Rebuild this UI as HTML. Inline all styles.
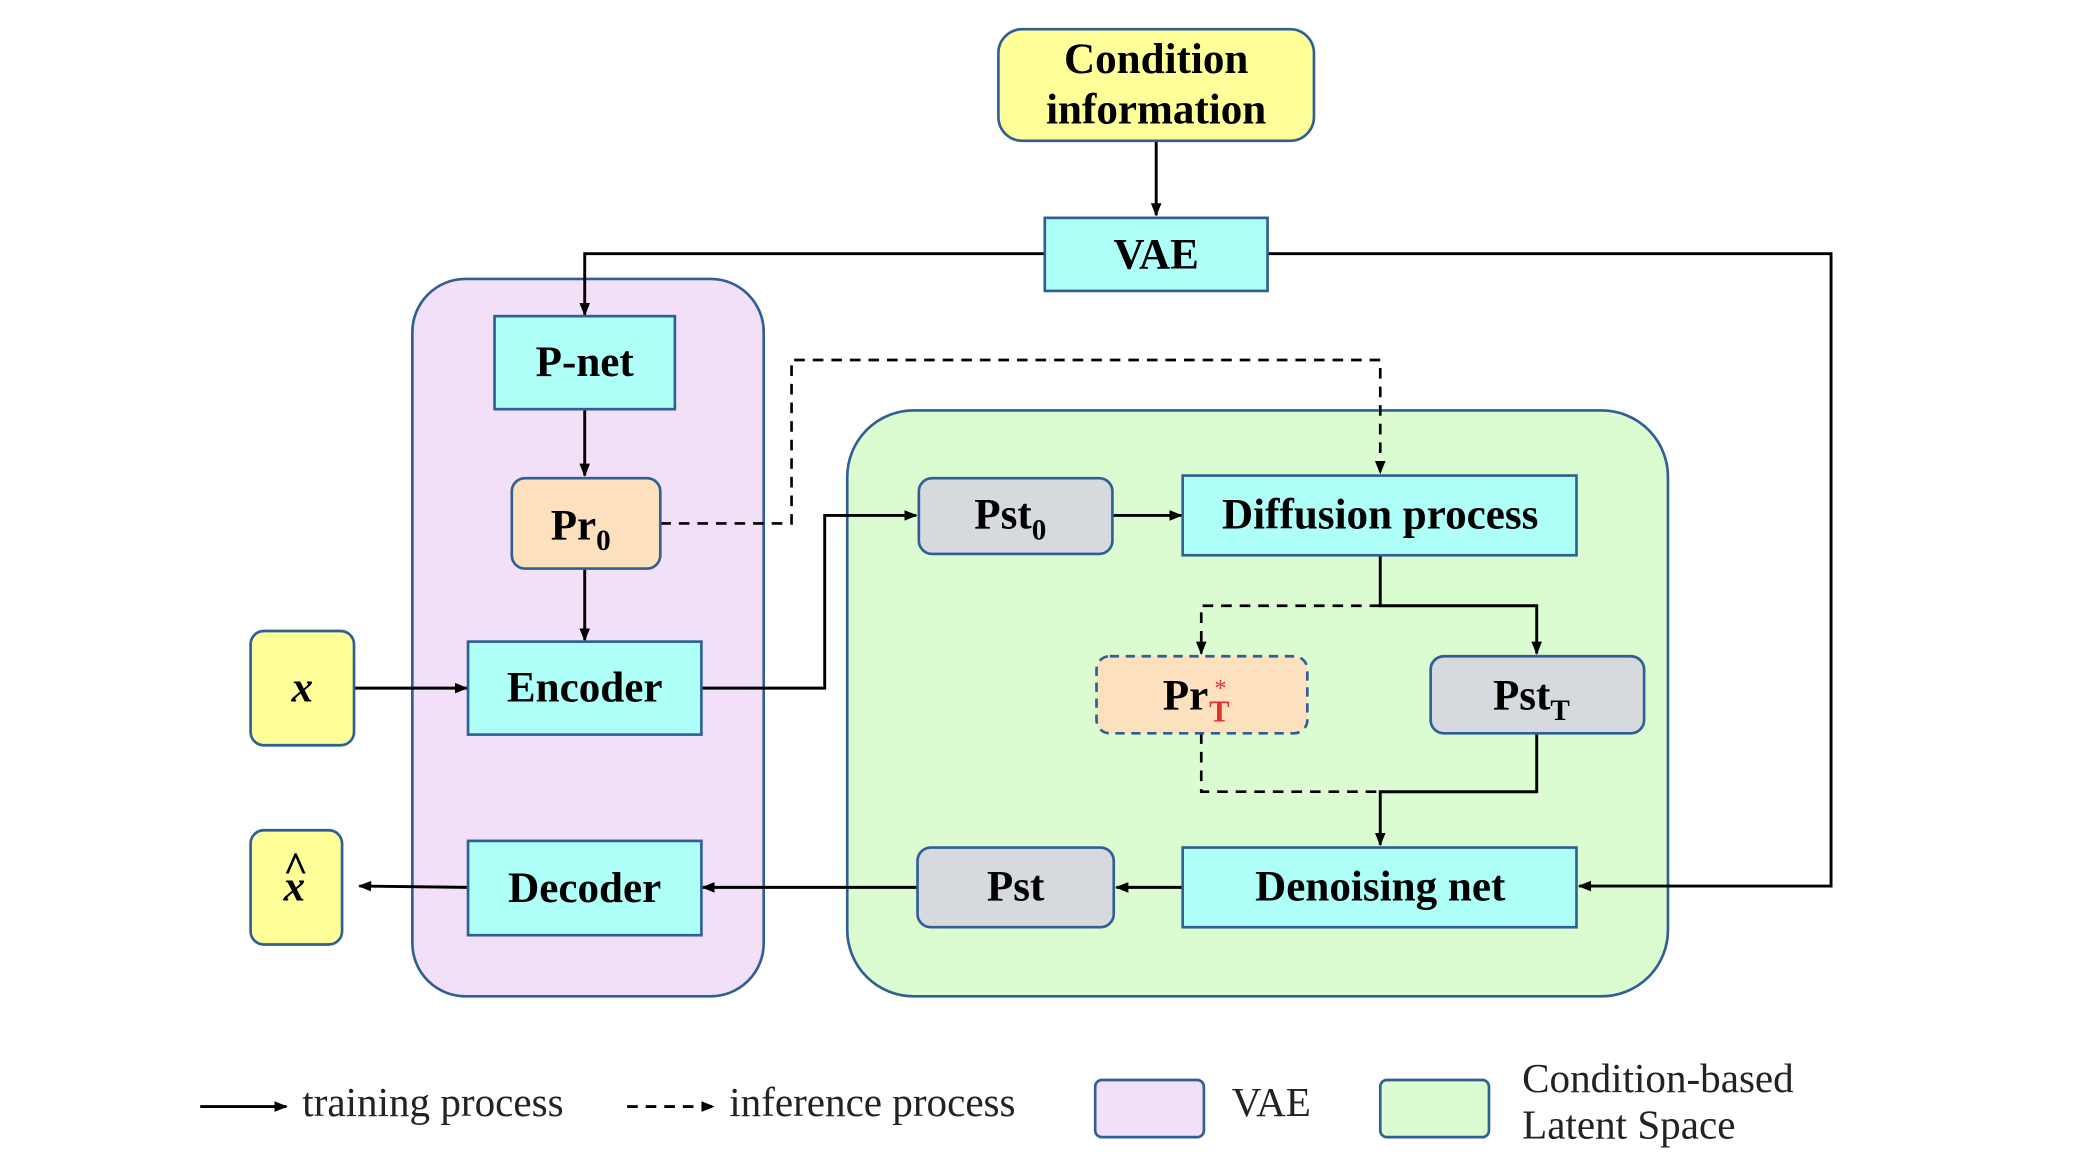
<!DOCTYPE html>
<html><head><meta charset="utf-8"><style>
html,body{margin:0;padding:0;background:#fff;}
svg{display:block;}
text{font-family:"Liberation Serif",serif;}
.b{font-weight:bold;font-size:32.5px;fill:#000;}
.l{font-size:31px;fill:#222;}
</style></head><body>
<svg width="2079" height="1169" viewBox="0 0 1568 880" preserveAspectRatio="none" xmlns="http://www.w3.org/2000/svg">
<defs>
<marker id="a" markerWidth="10" markerHeight="10" refX="9" refY="5" orient="auto" markerUnits="userSpaceOnUse">
<path d="M0,1 L10,5 L0,9 Z" fill="#000"/></marker>
</defs>
<rect width="1568" height="880" fill="#fff"/>
<rect x="311" y="210" width="265" height="540" rx="40" fill="#f1e0f7" stroke="#2f5f93" stroke-width="2"/>
<rect x="639" y="309" width="619" height="441" rx="50" fill="#dbfbd0" stroke="#2f5f93" stroke-width="2"/>

<g stroke="#000" stroke-width="2.2" fill="none">
<line x1="872" y1="106" x2="872" y2="162" marker-end="url(#a)"/>
<polyline points="788,191 441,191 441,237" marker-end="url(#a)"/>
<polyline points="956,191 1381,191 1381,667 1191,667" marker-end="url(#a)"/>
<line x1="441" y1="308" x2="441" y2="358" marker-end="url(#a)"/>
<line x1="441" y1="428" x2="441" y2="482" marker-end="url(#a)"/>
<line x1="267" y1="518" x2="352" y2="518" marker-end="url(#a)"/>
<polyline points="353,668 271,667" marker-end="url(#a)"/>
<polyline points="529,518 622,518 622,388 691,388" marker-end="url(#a)"/>
<line x1="839" y1="388" x2="891" y2="388" marker-end="url(#a)"/>
<polyline points="1041,418 1041,456 1159,456 1159,492" marker-end="url(#a)"/>
<polyline points="1159,552 1159,596 1041,596 1041,636" marker-end="url(#a)"/>
<line x1="892" y1="668" x2="842" y2="668" marker-end="url(#a)"/>
<line x1="692" y1="668" x2="530" y2="668" marker-end="url(#a)"/>
</g>
<g stroke="#000" stroke-width="2" fill="none" stroke-dasharray="8,6">
<polyline points="498,394 597,394 597,271 1041,271 1041,356" marker-end="url(#a)"/>
<polyline points="1041,456 906,456 906,492" marker-end="url(#a)"/>
<polyline points="906,552 906,596 1041,596"/>
</g>

<rect x="753" y="22" width="238" height="84" rx="18" fill="#ffff99" stroke="#2f5f93" stroke-width="2"/>
<text class="b" x="872" y="55" text-anchor="middle">Condition</text>
<text class="b" x="872" y="93" text-anchor="middle">information</text>

<rect x="788" y="164" width="168" height="55" fill="#aefff8" stroke="#2f5f93" stroke-width="2"/>
<text class="b" x="872" y="202" text-anchor="middle">VAE</text>

<rect x="373" y="238" width="136" height="70" fill="#aefff8" stroke="#2f5f93" stroke-width="2"/>
<text class="b" x="441" y="283" text-anchor="middle">P-net</text>

<rect x="386" y="360" width="112" height="68" rx="10" fill="#fde0bd" stroke="#2f5f93" stroke-width="2"/>
<text class="b" x="438" y="406" text-anchor="middle">Pr<tspan font-size="22" dy="8">0</tspan></text>

<rect x="353" y="483" width="176" height="70" fill="#aefff8" stroke="#2f5f93" stroke-width="2"/>
<text class="b" x="441" y="528" text-anchor="middle">Encoder</text>

<rect x="353" y="633" width="176" height="71" fill="#aefff8" stroke="#2f5f93" stroke-width="2"/>
<text class="b" x="441" y="679" text-anchor="middle">Decoder</text>

<rect x="189" y="475" width="78" height="86" rx="10" fill="#ffff99" stroke="#2f5f93" stroke-width="2"/>
<text class="b" x="228" y="528" text-anchor="middle" font-style="italic">x</text>

<rect x="189" y="625" width="69" height="86" rx="10" fill="#ffff99" stroke="#2f5f93" stroke-width="2"/>
<text class="b" x="222" y="678" text-anchor="middle" font-style="italic">x</text>
<text class="b" x="223" y="664" text-anchor="middle" font-size="22">^</text>

<rect x="693" y="360" width="146" height="57" rx="10" fill="#d6d9de" stroke="#2f5f93" stroke-width="2"/>
<text class="b" x="762" y="398" text-anchor="middle">Pst<tspan font-size="22" dy="8">0</tspan></text>

<rect x="892" y="358" width="297" height="60" fill="#aefff8" stroke="#2f5f93" stroke-width="2"/>
<text class="b" x="1041" y="398" text-anchor="middle">Diffusion process</text>

<rect x="827" y="494" width="159" height="58" rx="10" fill="#fde0bd" stroke="#2f5f93" stroke-width="2" stroke-dasharray="7,5"/>
<text class="b" x="877" y="534">Pr</text>
<text x="912" y="543" font-size="23" font-weight="bold" fill="#e03030">T</text>
<text x="916" y="524" font-size="18" fill="#e03030">*</text>

<rect x="1079" y="494" width="161" height="58" rx="10" fill="#d6d9de" stroke="#2f5f93" stroke-width="2"/>
<text class="b" x="1155" y="534" text-anchor="middle">Pst<tspan font-size="22" dy="8">T</tspan></text>

<rect x="892" y="638" width="297" height="60" fill="#aefff8" stroke="#2f5f93" stroke-width="2"/>
<text class="b" x="1041" y="678" text-anchor="middle">Denoising net</text>

<rect x="692" y="638" width="148" height="60" rx="10" fill="#d6d9de" stroke="#2f5f93" stroke-width="2"/>
<text class="b" x="766" y="678" text-anchor="middle">Pst</text>

<line x1="151" y1="833" x2="216" y2="833" stroke="#000" stroke-width="2.2" marker-end="url(#a)"/>
<text class="l" x="228" y="840">training process</text>
<line x1="473" y1="833" x2="538" y2="833" stroke="#000" stroke-width="2.2" stroke-dasharray="8,6" marker-end="url(#a)"/>
<text class="l" x="550" y="840">inference process</text>
<rect x="826" y="813" width="82" height="43" rx="5" fill="#f1e0f7" stroke="#2f5f93" stroke-width="2"/>
<text class="l" x="929" y="840">VAE</text>
<rect x="1041" y="813" width="82" height="43" rx="5" fill="#dbfbd0" stroke="#2f5f93" stroke-width="2"/>
<text class="l" x="1148" y="822">Condition-based</text>
<text class="l" x="1148" y="857">Latent Space</text>
</svg>
</body></html>
